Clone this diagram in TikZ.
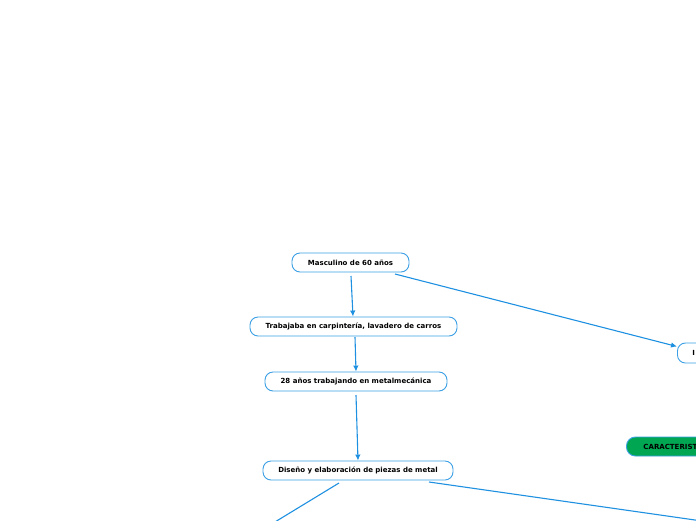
\documentclass[tikz,border=0pt]{standalone}
\usepackage{fontspec}
\setmainfont{DejaVu Sans}
\usetikzlibrary{arrows.meta}
\definecolor{edgeblue}{RGB}{30,144,225}
\definecolor{nodeblue}{RGB}{60,160,230}
\definecolor{greenfill}{RGB}{0,166,81}
\tikzset{
  topic/.style={draw=nodeblue, line width=0.9pt, rounded corners=8pt, fill=white,
    minimum height=19pt, inner xsep=0pt, inner ysep=0pt, font=\fontsize{7}{8}\selectfont\bfseries},
  greentopic/.style={draw=nodeblue, line width=0.9pt, rounded corners=9pt, fill=greenfill,
    minimum height=19pt, inner ysep=0pt, font=\fontsize{7}{8}\selectfont\bfseries},
  conn/.style={draw=edgeblue, line width=1.1pt},
  arr/.style={conn, -{Latex[length=6pt,width=5.5pt]}}
}
\begin{document}
\begin{tikzpicture}[x=1pt,y=-1pt]
\useasboundingbox (0,0) rectangle (696,520);
\clip (0,0) rectangle (696,520);
\node[topic, minimum width=117pt] (a) at (350.5,262.5) {Masculino de 60 años};
\node[topic, minimum width=207pt] (b) at (353.5,326.5) {Trabajaba en carpintería, lavadero de carros};
\node[topic, minimum width=182pt] (c) at (356,381.5) {28 años trabajando en metalmecánica};
\node[topic, minimum width=190pt] (d) at (358,470.5) {Diseño y elaboración de piezas de metal};
\node[topic, anchor=west, text width=90pt, align=left, inner xsep=15pt, minimum height=20pt] (e) at (677,353) {I};
\node[greentopic, anchor=west, text width=100pt, align=left, inner xsep=17pt] (f) at (626,446.5) {CARACTERIST};
\coordinate (o1) at (270,525);
\coordinate (o2) at (730,525);
\draw[arr] (351,276) -- (b.north -| 353,0);
\draw[arr] (355,337) -- (c.north -| 356,0);
\draw[arr] (356,395) -- (d.north -| 358,0);
\draw[arr] (395,274) -- (e.west |- 0,346.5);
\draw[conn] (339,483) -- (o1);
\draw[conn] (429,482) -- (o2);
\end{tikzpicture}
\end{document}
